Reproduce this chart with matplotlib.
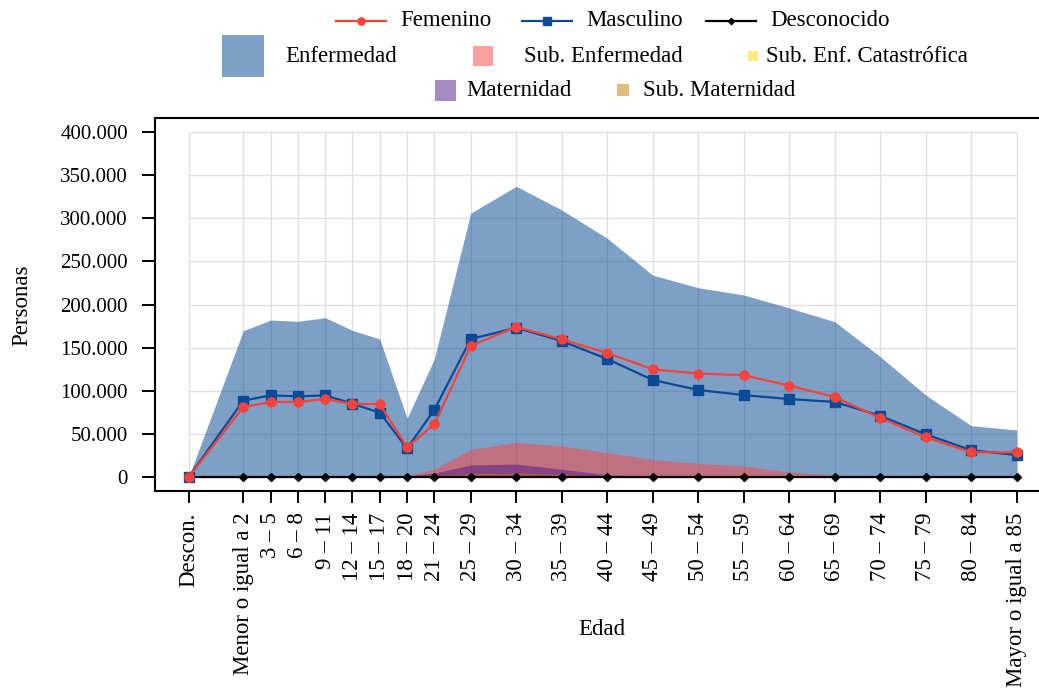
import numpy as np
import matplotlib
matplotlib.use("Agg")
import matplotlib.pyplot as plt
from matplotlib.lines import Line2D
from matplotlib.patches import Rectangle
from matplotlib.ticker import FuncFormatter

plt.rcParams["font.family"] = ["Liberation Serif", "DejaVu Serif"]

# Grupos de edad (limite inferior de cada tramo, "Descon." se ubica a la izquierda)
grupos = ["Descon.", "Menor o igual a 2", "3 – 5", "6 – 8", "9 – 11", "12 – 14",
          "15 – 17", "18 – 20", "21 – 24", "25 – 29", "30 – 34", "35 – 39",
          "40 – 44", "45 – 49", "50 – 54", "55 – 59", "60 – 64", "65 – 69",
          "70 – 74", "75 – 79", "80 – 84", "Mayor o igual a 85"]
edad_inicio = [-6, 0, 3, 6, 9, 12, 15, 18, 21, 25, 30, 35, 40, 45, 50, 55, 60, 65,
               70, 75, 80, 85]

# Personas por tipo de licencia (areas)
enfermedad = [0, 169600, 182000, 180500, 184700, 170000, 160000, 68000, 137000,
              306000, 337000, 309600, 276700, 234000, 219500, 211000, 196000,
              180000, 139500, 95000, 59500, 54500]
sub_enfermedad = [0, 200, 200, 200, 200, 300, 600, 1500, 9000, 32000, 40000,
                  36000, 28300, 20500, 15800, 12700, 6000, 2000, 600, 300, 100, 100]
sub_catastrofica = [0, 100, 100, 100, 100, 100, 100, 200, 500, 900, 1100, 1100,
                    900, 700, 500, 400, 300, 200, 100, 100, 0, 0]
maternidad = [0, 0, 0, 0, 0, 0, 100, 800, 4500, 14000, 15000, 9000, 2500, 300,
              0, 0, 0, 0, 0, 0, 0, 0]
sub_maternidad = [0, 0, 0, 0, 0, 0, 0, 200, 1500, 4000, 4500, 3000, 1000, 100,
                  0, 0, 0, 0, 0, 0, 0, 0]

# Personas por sexo (lineas)
femenino = [0, 81000, 87000, 87000, 90400, 84600, 84600, 34400, 61400, 152000,
            174000, 159600, 143800, 124800, 120000, 118000, 105900, 92800,
            68400, 46000, 28600, 28600]
masculino = [0, 88500, 94700, 93500, 94700, 85000, 74600, 33200, 78000, 160000,
             173000, 157700, 136800, 112500, 100900, 95000, 90400, 87000,
             71000, 49500, 31000, 25500]
desconocido = [0, 0, 0, 0, 0, 0, 0, 0, 0, 0, 0, 0, 0, 0, 0, 0, 0, 0, 0, 0, 0, 0]

yticks = [0, 50000, 100000, 150000, 200000, 250000, 300000, 350000, 400000]

areas = [
    ("Enfermedad", enfermedad, "#00438f"),
    ("Sub. Enfermedad", sub_enfermedad, "#ff413d"),
    ("Sub. Enf. Catastrófica", sub_catastrofica, "#fad700"),
    ("Maternidad", maternidad, "#531789"),
    ("Sub. Maternidad", sub_maternidad, "#c77b00"),
]
lineas = [
    ("Desconocido", desconocido, "black", "D", 4.0),
    ("Masculino", masculino, "#0b4a96", "s", 6.5),
    ("Femenino", femenino, "#f7433b", "o", 6.5),
]

W, H = 1039, 693
fig = plt.figure(figsize=(W / 100, H / 100), dpi=100)
ax = fig.add_axes([155 / W, 202 / H, 890 / W, 373 / H])

x = np.array(edad_inicio, dtype=float)

# grilla solo dentro del rango de datos
ax.hlines(yticks, x.min(), x.max(), color="#e0e0e0", lw=1.0, zorder=0)
ax.vlines(x, 0, yticks[-1], color="#e0e0e0", lw=1.0, zorder=0)

for i, (nombre, vals, col) in enumerate(areas):
    ax.fill_between(x, 0, vals, color=col, alpha=0.5, lw=0, zorder=1 + i * 0.1)

for nombre, vals, col, mk, ms in lineas:
    ax.plot(x, vals, color=col, lw=1.6, marker=mk, ms=ms, zorder=3)

ax.set_xlim(-9.7, 88.1)
ax.set_ylim(-16200, 416200)
ax.set_xticks(x)
ax.set_xticklabels(grupos, rotation=90, fontsize=16.5)
ax.set_yticks(yticks)
ax.yaxis.set_major_formatter(FuncFormatter(lambda v, p: f"{int(v):,}".replace(",", ".")))
ax.tick_params(axis="y", labelsize=15, length=9.5, width=1.4, pad=10)
ax.tick_params(axis="x", length=8.5, width=1.4, pad=7)
for sp in ax.spines.values():
    sp.set_linewidth(1.5)

ax.set_xlabel("Edad", fontsize=16.5)
ax.xaxis.set_label_coords(0.502, -0.37)
ax.xaxis.label.set_va("center")
ax.set_ylabel("Personas", fontsize=16.5)
ax.yaxis.set_label_coords(-0.1494, 0.499)
ax.yaxis.label.set_va("center")


# leyenda armada a mano en pixeles de la figura
def fx(px):
    return px / W


def fy(py):
    return 1 - py / H


for nombre, x0, ty in [("Femenino", 336, 21), ("Masculino", 522, 21), ("Desconocido", 706, 21)]:
    _, _, col, mk, ms = next(l for l in lineas if l[0] == nombre)
    fig.add_artist(Line2D([fx(x0), fx(x0 + 25), fx(x0 + 50)], [fy(ty)] * 3,
                          transform=fig.transFigure, color=col, lw=1.6,
                          marker=mk, ms=ms * 0.8, markevery=[1]))
    fig.text(fx(x0 + 64), fy(ty), nombre, fontsize=16.5, va="center", ha="left")

leyenda_areas = [
    ("Enfermedad", 242.5, 56, 42, 285),
    ("Sub. Enfermedad", 483, 56, 20, 524),
    ("Sub. Enf. Catastrófica", 753, 56, 10, 766),
    ("Maternidad", 445.5, 90.5, 21, 466),
    ("Sub. Maternidad", 623, 90, 12, 643),
]
for nombre, cx, cy, s, tx in leyenda_areas:
    col = next(a[2] for a in areas if a[0] == nombre)
    fig.add_artist(Rectangle((fx(cx - s / 2), fy(cy + s / 2)), s / W, s / H,
                             transform=fig.transFigure, color=col, alpha=0.5, lw=0))
    fig.text(fx(tx), fy(cy), nombre, fontsize=16.5, va="center", ha="left")

fig.savefig("out.png", dpi=100)
